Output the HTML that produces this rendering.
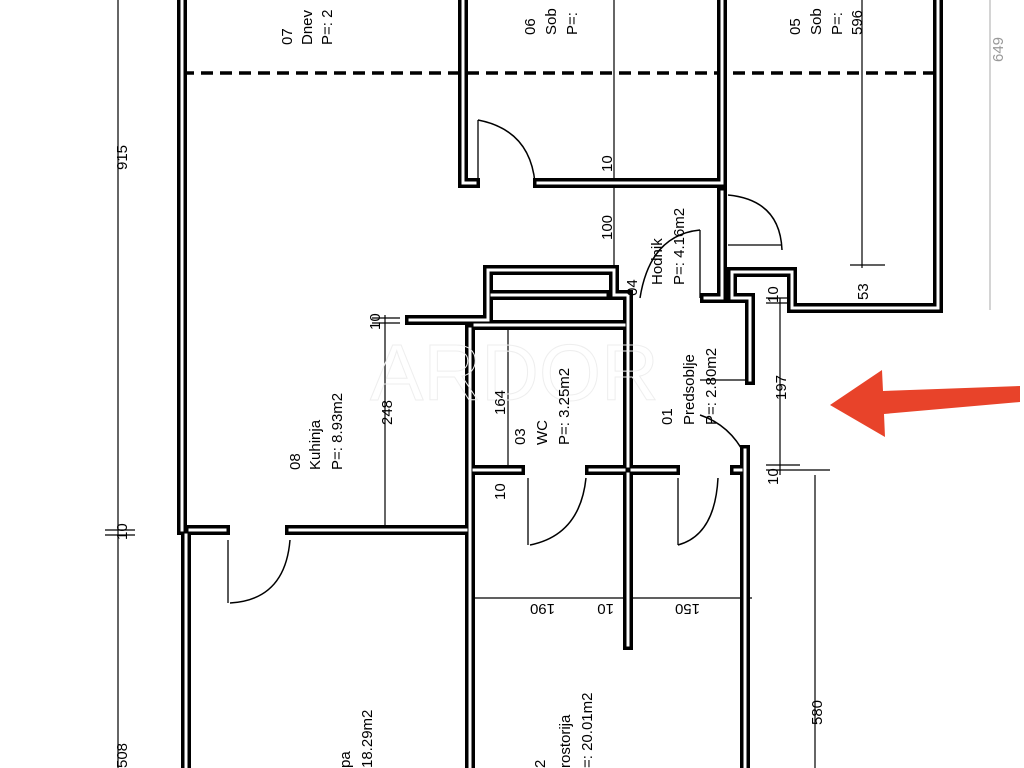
<!DOCTYPE html>
<html><head><style>
html,body{margin:0;padding:0;background:#fff;}
svg{display:block;}
text{font-family:"Liberation Sans",sans-serif;font-size:15px;fill:#000;}
</style></head><body>
<svg width="1024" height="768" viewBox="0 0 1024 768" xmlns="http://www.w3.org/2000/svg">
<g fill="none" stroke="#000">
 <g stroke-width="1.2">
  <line x1="118" y1="0" x2="118" y2="768"/>
  <line x1="614" y1="0" x2="614" y2="290"/>
  <line x1="862" y1="0" x2="862" y2="268"/>
  <line x1="385" y1="315" x2="385" y2="530"/>
  <line x1="508" y1="325" x2="508" y2="470"/>
  <line x1="780" y1="298" x2="780" y2="475"/>
  <line x1="815" y1="475" x2="815" y2="768"/>
  <line x1="470" y1="598" x2="752" y2="598"/>
  <line x1="372" y1="318" x2="400" y2="318"/><line x1="372" y1="323" x2="400" y2="323"/>
  <line x1="766" y1="298" x2="795" y2="298"/><line x1="766" y1="303" x2="795" y2="303"/>
  <line x1="766" y1="465" x2="800" y2="465"/><line x1="766" y1="470" x2="830" y2="470"/>
  <line x1="105" y1="530" x2="135" y2="530"/><line x1="105" y1="535" x2="135" y2="535"/>
  <line x1="850" y1="265" x2="885" y2="265"/>
 </g>
 <line x1="990" y1="0" x2="990" y2="310" stroke="#aaa" stroke-width="1"/>
 <line x1="182" y1="73" x2="935" y2="73" stroke-width="3.5" stroke-dasharray="12,7"/>
 <g stroke-width="1.5">
  <path d="M478 120 Q530 130 535 183"/>
  <path d="M728 195 Q780 200 782 250"/>
  <path d="M640 298 Q650 235 700 230"/>
  <path d="M700 415 Q730 425 745 455"/>
  <path d="M586 478 Q580 535 530 545"/>
  <path d="M718 478 Q715 535 678 545"/>
  <path d="M290 540 Q285 600 230 603"/>
 </g>
 <g stroke-width="1.3">
  <line x1="478" y1="120" x2="478" y2="185"/>
  <line x1="528" y1="478" x2="528" y2="545"/>
  <line x1="678" y1="478" x2="678" y2="545"/>
  <line x1="228" y1="540" x2="228" y2="603"/>
  <line x1="700" y1="230" x2="700" y2="298"/>
  <line x1="728" y1="245" x2="782" y2="245"/>
  <line x1="700" y1="380" x2="752" y2="380"/>
 </g>
</g>
<g fill="none" stroke-linejoin="miter" stroke-linecap="square">
 <g stroke="#000" stroke-width="10">
  <polyline points="182,0 182,530"/>
  <polyline points="186,530 186,768"/>
  <polyline points="186,530 225,530"/>
  <polyline points="290,530 470,530"/>
  <polyline points="463,0 463,183 475,183"/>
  <polyline points="538,183 722,183 722,0"/>
  <polyline points="938,0 938,308 792,308 792,272 732,272 732,298 750,298 750,380"/>
  <polyline points="722,188 722,298 705,298"/>
  <polyline points="410,320 488,320 488,270 614,270 614,295 628,295 628,470"/>
  <polyline points="492,295 605,295"/>
  <polyline points="470,325 470,768"/>
  <polyline points="475,325 628,325"/>
  <polyline points="470,470 520,470"/>
  <polyline points="590,470 628,470 628,645"/>
  <polyline points="628,470 675,470"/>
  <polyline points="745,450 745,768"/>
  <polyline points="735,470 745,470"/>
 </g>
 <g stroke="#fff" stroke-width="3">
  <polyline points="182,0 182,530"/>
  <polyline points="186,535 186,768"/>
  <polyline points="190,530 225,530"/>
  <polyline points="290,530 466,530"/>
  <polyline points="463,0 463,183 475,183"/>
  <polyline points="538,183 722,183 722,0"/>
  <polyline points="938,0 938,308 792,308 792,272 732,272 732,298 750,298 750,380"/>
  <polyline points="722,192 722,298 705,298"/>
  <polyline points="410,320 488,320 488,270 614,270 614,295 628,295 628,466"/>
  <polyline points="492,295 605,295"/>
  <polyline points="470,329 470,768"/>
  <polyline points="475,325 624,325"/>
  <polyline points="474,470 520,470"/>
  <polyline points="590,470 624,470"/>
  <polyline points="628,474 628,645"/>
  <polyline points="632,470 675,470"/>
  <polyline points="745,450 745,768"/>
  <polyline points="735,470 741,470"/>
 </g>
</g>
<text x="370" y="400" style="font-size:80px;fill:none;stroke:#eee;stroke-width:1">ARDOR</text>
<g>
 <text transform="translate(292,45) rotate(-90)">07</text>
 <text transform="translate(312,45) rotate(-90)">Dnev</text>
 <text transform="translate(332,45) rotate(-90)">P=: 2</text>
 <text transform="translate(535,35) rotate(-90)">06</text>
 <text transform="translate(556,35) rotate(-90)">Sob</text>
 <text transform="translate(577,35) rotate(-90)">P=:</text>
 <text transform="translate(800,35) rotate(-90)">05</text>
 <text transform="translate(821,35) rotate(-90)">Sob</text>
 <text transform="translate(842,35) rotate(-90)">P=:</text>
 <text transform="translate(862,35) rotate(-90)">596</text>
 <text transform="translate(1003,62) rotate(-90)" style="fill:#999">649</text>
 <text transform="translate(127,170) rotate(-90)">915</text>
 <text transform="translate(612,172) rotate(-90)">10</text>
 <text transform="translate(612,240) rotate(-90)">100</text>
 <text transform="translate(637,296) rotate(-90)">04</text>
 <text transform="translate(662,285) rotate(-90)">Hodnik</text>
 <text transform="translate(684,285) rotate(-90)">P=: 4.16m2</text>
 <text transform="translate(868,300) rotate(-90)">53</text>
 <text transform="translate(778,303) rotate(-90)">10</text>
 <text transform="translate(380,330) rotate(-90)">10</text>
 <text transform="translate(300,470) rotate(-90)">08</text>
 <text transform="translate(320,470) rotate(-90)">Kuhinja</text>
 <text transform="translate(342,470) rotate(-90)">P=: 8.93m2</text>
 <text transform="translate(392,425) rotate(-90)">248</text>
 <text transform="translate(505,415) rotate(-90)">164</text>
 <text transform="translate(525,445) rotate(-90)">03</text>
 <text transform="translate(547,445) rotate(-90)">WC</text>
 <text transform="translate(569,445) rotate(-90)">P=: 3.25m2</text>
 <text transform="translate(672,425) rotate(-90)">01</text>
 <text transform="translate(694,425) rotate(-90)">Predsoblje</text>
 <text transform="translate(716,425) rotate(-90)">P=: 2.80m2</text>
 <text transform="translate(786,400) rotate(-90)">197</text>
 <text transform="translate(778,485) rotate(-90)">10</text>
 <text transform="translate(505,500) rotate(-90)">10</text>
 <text transform="translate(127,540) rotate(-90)">10</text>
 <text transform="translate(127,768) rotate(-90)">508</text>
 <text transform="translate(822,725) rotate(-90)">580</text>
 <text transform="translate(350,768) rotate(-90)">pa</text>
 <text transform="translate(372,768) rotate(-90)">18.29m2</text>
 <text transform="translate(545,768) rotate(-90)">2</text>
 <text transform="translate(570,768) rotate(-90)">rostorija</text>
 <text transform="translate(592,768) rotate(-90)">=: 20.01m2</text>
 <text transform="translate(555,604) rotate(180)">190</text>
 <text transform="translate(614,604) rotate(180)">10</text>
 <text transform="translate(700,604) rotate(180)">150</text>
</g>
<polygon points="830,405 882,370 883,391 1020,386 1020,402 884,414 885,437" fill="#e8432a"/>
</svg>
</body></html>
